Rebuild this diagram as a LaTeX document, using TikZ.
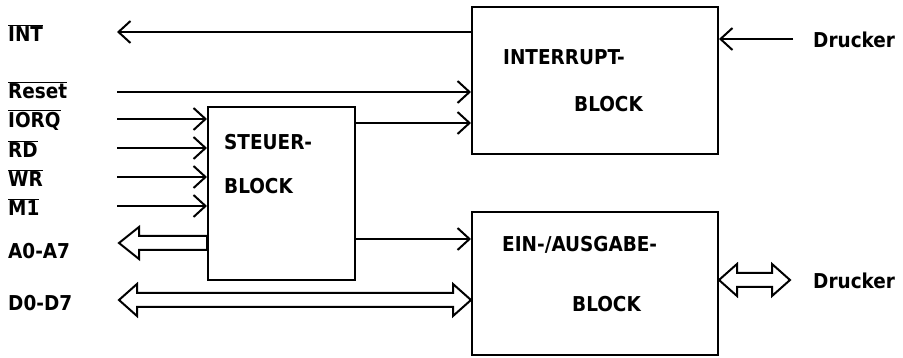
\documentclass[tikz,border=0pt]{standalone}
\usepackage{fontspec}
\setmainfont{DejaVu Sans Condensed}
\usetikzlibrary{calc, arrows.meta, positioning}

\tikzset{
  blk/.style={draw, line width=2pt, inner sep=0pt},
  txt/.style={font=\bfseries\fontsize{20.5}{22}\selectfont, inner sep=0pt, anchor=west},
  sig/.style={line width=2pt, -{Straight Barb[length=12pt,width=22pt]}},
  % Bus mit Spitze am Ziel
  busto/.style={line width=2pt, line join=miter, to path={let \p1=(\tikztostart), \p2=(\tikztotarget) in
    (\x2,\y2) -- (\x2+20,\y2+16) -- (\x2+20,\y2+7) -- (\x1,\y1+7) -- (\x1,\y1-7)
    -- (\x2+20,\y2-7) -- (\x2+20,\y2-16) -- cycle}},
  % Bus mit zwei Spitzen
  busboth/.style={line width=2pt, line join=miter, to path={let \p1=(\tikztostart), \p2=(\tikztotarget) in
    (\x1,\y1) -- (\x1+18,\y1+16) -- (\x1+18,\y1+7) -- (\x2-18,\y2+7) -- (\x2-18,\y2+16) -- (\x2,\y2)
    -- (\x2-18,\y2-16) -- (\x2-18,\y2-7) -- (\x1+18,\y1-7) -- (\x1+18,\y1-16) -- cycle}}
}

\begin{document}
\begin{tikzpicture}[x=1pt, y=-1pt]
\useasboundingbox (0,0) rectangle (903,358);
% Bloecke
\node[blk, minimum width=246pt, minimum height=147pt] (irq) at (595,80.5) {};
\node[blk, minimum width=246pt, minimum height=143pt] (ea) at (595,283.5) {};
\node[blk, minimum width=147pt, minimum height=173pt] (st) at (281.5,193.5) {};
\node[txt] (irq-t1) at (503,57) {INTERRUPT-};
\node[txt] (irq-t2) at (574,104) {BLOCK};
\node[txt] (ea-t1) at (502,245) {EIN-/AUSGABE-};
\node[txt] (ea-t2) at (572,304) {BLOCK};
\node[txt] (st-t1) at (224,142) {STEUER-};
\node[txt] (st-t2) at (224,186) {BLOCK};
% Signale links
\node[txt] (l-int) at (8,33) {$\overline{\mbox{INT}}$};
\coordinate (int-out) at (117,32);
\draw[sig] (irq.west |- int-out) -- (int-out);
\node[txt] (l-reset) at (8,90) {$\overline{\mbox{Reset}}$};
\coordinate (reset-in) at (117,92);
\draw[sig] (reset-in) -- (irq.west |- reset-in);
\foreach \y/\sname in {119/IORQ, 148/RD, 177/WR, 206/M1} {
  \node[txt] (l-\sname) at (8,\y+1) {$\overline{\mbox{\sname}}$};
  \coordinate (\sname-in) at (117,\y);
  \draw[sig] (\sname-in) -- (st.west |- \sname-in);
}
\node[txt] (l-adr) at (8,251) {A0-A7};
\coordinate (adr-out) at (119,243);
\draw[busto] (st.west |- adr-out) to (adr-out);
\node[txt] (l-dat) at (8,303) {D0-D7};
\coordinate (dat-out) at (119,300);
\draw[busboth] (dat-out) to (ea.west |- dat-out);
% Steuerblock zu den anderen Bloecken
\coordinate (s1) at (355,123);
\draw[sig] (s1) -- (irq.west |- s1);
\coordinate (s2) at (355,239);
\draw[sig] (s2) -- (ea.west |- s2);
% Drucker
\node[txt] (dr1) at (813,40) {Drucker};
\coordinate (dr-in) at (793,39);
\draw[sig] (dr-in) -- (irq.east |- dr-in);
\node[txt] (dr2) at (813,281) {Drucker};
\coordinate (dr-io) at (790,280);
\draw[busboth] (ea.east |- dr-io) to (dr-io);
\end{tikzpicture}
\end{document}
